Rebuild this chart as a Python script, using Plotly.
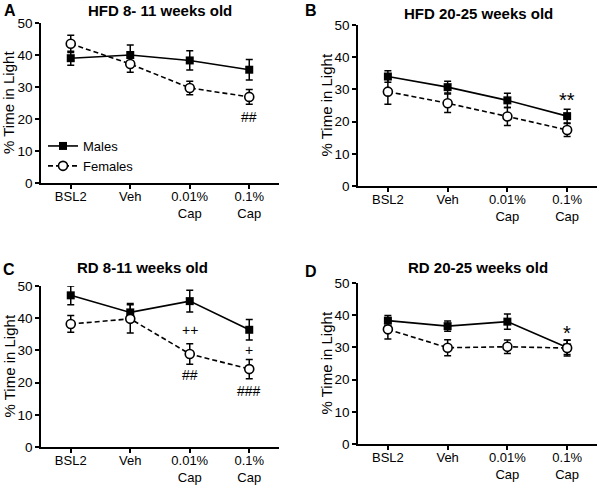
import plotly.graph_objects as go

FONT = "Arial, 'Liberation Sans', sans-serif"

categories = ["BSL2", "Veh", "0.01%<br>Cap", "0.1%<br>Cap"]
cat_idx = [0, 1, 2, 3]

# Panel A: HFD 8-11 weeks
a_males = [39.0, 40.0, 38.3, 35.4]
a_males_err = [2.2, 3.1, 3.0, 3.2]
a_females = [43.5, 37.2, 29.7, 26.9]
a_females_err = [2.7, 2.6, 2.1, 2.3]

# Panel B: HFD 20-25 weeks
b_males = [34.0, 30.7, 26.6, 21.7]
b_males_err = [1.8, 1.8, 2.2, 2.1]
b_females = [29.3, 25.7, 21.6, 17.4]
b_females_err = [3.9, 2.9, 2.8, 2.0]

# Panel C: RD 8-11 weeks
c_males = [47.1, 41.8, 45.3, 36.4]
c_males_err = [2.9, 2.8, 3.4, 3.2]
c_females = [38.2, 39.8, 28.9, 24.2]
c_females_err = [2.6, 4.4, 3.2, 3.0]

# Panel D: RD 20-25 weeks
d_males = [38.3, 36.6, 38.0, 30.0]
d_males_err = [1.6, 1.6, 2.4, 2.2]
d_females = [35.6, 29.9, 30.2, 29.8]
d_females_err = [3.0, 2.5, 2.1, 2.5]

# significance marks: (text, category index, y value)
a_marks = [("##", 3, 20.5)]
b_marks = [("**", 3, 26.6)]
c_marks = [("++", 2, 36.3), ("##", 2, 22.3), ("+", 3, 30.1), ("###", 3, 17.3)]
d_marks = [("*", 3, 34.6)]

titles = ["HFD 8- 11 weeks old", "HFD 20-25 weeks old", "RD 8-11 weeks old", "RD 20-25 weeks old"]
letters = ["A", "B", "C", "D"]

panels = [
    (a_males, a_males_err, a_females, a_females_err, a_marks),
    (b_males, b_males_err, b_females, b_females_err, b_marks),
    (c_males, c_males_err, c_females, c_females_err, c_marks),
    (d_males, d_males_err, d_females, d_females_err, d_marks),
]

W, H = 600, 486
# pixel layout of each panel: x-left, x-right, y-top(50), y-bottom(0)
px = [(41, 279, 23, 183), (358, 597, 25, 186), (41, 279, 286, 447), (358, 597, 283, 444)]
title_top = [(160, 0), (478, 3), (142, 257), (478, 257)]
letter_pos = [(10, 11), (311, 10), (9, 269), (311, 271)]
ylabel_x = [9, 326, 9, 326]

fig = go.Figure()
annotations = []
for i, (m, me, f, fe, marks) in enumerate(panels):
    xa = "x" if i == 0 else f"x{i+1}"
    ya = "y" if i == 0 else f"y{i+1}"
    fig.add_trace(go.Scatter(
        x=cat_idx, y=m, xaxis=xa, yaxis=ya, name="Males", mode="lines+markers",
        line=dict(color="black", width=1.6),
        marker=dict(symbol="square", size=8, color="black"),
        error_y=dict(type="data", array=me, color="black", thickness=1.5, width=3.5),
        showlegend=(i == 0), legendgroup="m"))
    fig.add_trace(go.Scatter(
        x=cat_idx, y=f, xaxis=xa, yaxis=ya, name="Females", mode="lines+markers",
        line=dict(color="black", width=1.6, dash="5px,3px"),
        marker=dict(symbol="circle", size=9, color="white", line=dict(color="black", width=1.6)),
        error_y=dict(type="data", array=fe, color="black", thickness=1.5, width=3.5),
        showlegend=(i == 0), legendgroup="f"))
    for txt, xi, yv in marks:
        fsize = 20 if "*" in txt else 14
        annotations.append(dict(text=txt, x=xi, y=yv, xref=xa, yref=ya, showarrow=False,
                                font=dict(family=FONT, size=fsize, color="black")))
    l, r, t, b = px[i]
    axkey = "xaxis" if i == 0 else f"xaxis{i+1}"
    aykey = "yaxis" if i == 0 else f"yaxis{i+1}"
    fig.update_layout(**{
        axkey: dict(domain=[l / W, r / W], range=[-0.5, 3.5], anchor=ya, automargin=False,
                    tickvals=cat_idx, ticktext=categories, showgrid=False, zeroline=False,
                    showline=True, linecolor="black", linewidth=1.6, ticks="outside",
                    ticklen=4, tickwidth=1.5, tickcolor="black", ticklabelstandoff=-3,
                    tickfont=dict(family=FONT, size=13, color="black")),
        aykey: dict(domain=[1 - b / H, 1 - t / H], range=[0, 50], anchor=xa, automargin=False,
                    tickvals=[0, 10, 20, 30, 40, 50], showgrid=False, zeroline=False,
                    showline=True, linecolor="black", linewidth=1.6, ticks="outside",
                    ticklen=4, tickwidth=1.5, tickcolor="black",
                    tickfont=dict(family=FONT, size=13.5, color="black")),
    })
    tx, ty = title_top[i]
    annotations.append(dict(text="<b>" + titles[i] + "</b>", x=tx / W, y=1 - ty / H,
                            xref="paper", yref="paper", showarrow=False,
                            xanchor="center", yanchor="top",
                            font=dict(family=FONT, size=15, color="black")))
    lx, ly = letter_pos[i]
    annotations.append(dict(text="<b>" + letters[i] + "</b>", x=lx / W, y=1 - ly / H,
                            xref="paper", yref="paper", showarrow=False,
                            xanchor="center", yanchor="middle",
                            font=dict(family=FONT, size=16, color="black")))
    annotations.append(dict(text="% Time in Light", x=ylabel_x[i] / W, y=1 - ((t + b) / 2) / H,
                            xref="paper", yref="paper", showarrow=False, textangle=-90,
                            xanchor="center", yanchor="middle",
                            font=dict(family=FONT, size=15, color="black")))

fig.update_layout(
    width=W, height=H, margin=dict(l=0, r=0, t=0, b=0, pad=0, autoexpand=False),
    paper_bgcolor="white", plot_bgcolor="white",
    annotations=annotations,
    showlegend=True,
    legend=dict(x=43 / W, y=1 - 131 / H, xanchor="left", yanchor="top",
                bgcolor="rgba(0,0,0,0)", itemwidth=30, tracegroupgap=0,
                font=dict(family=FONT, size=13, color="black")),
)

fig.write_html("out.html", config={"displayModeBar": False},
               post_script="document.body.style.margin='0';document.body.style.padding='0';")
